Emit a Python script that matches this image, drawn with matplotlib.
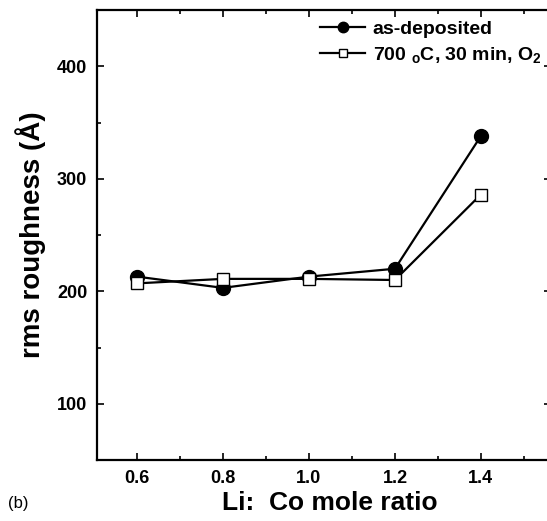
import matplotlib
matplotlib.use('Agg')
import matplotlib.pyplot as plt
from matplotlib.ticker import MultipleLocator

plt.rcParams['font.family'] = ['Liberation Sans', 'DejaVu Sans']
plt.rcParams['mathtext.fontset'] = 'custom'
plt.rcParams['mathtext.bf'] = 'Liberation Sans:bold'
plt.rcParams['mathtext.rm'] = 'Liberation Sans:bold'
plt.rcParams['mathtext.default'] = 'bf'

# data
ratio = [0.6, 0.8, 1.0, 1.2, 1.4]
as_deposited = [213, 203, 213, 220, 338]
annealed = [207, 211, 211, 210, 286]
label_as = 'as-deposited'
label_ann = r'700 $_{\rm o}$C, 30 min, O$_2$'

fig = plt.figure(figsize=(5.47, 5.21), dpi=100)
ax = fig.add_axes([97 / 547, 1 - 460 / 521, 454 / 547, 450 / 521])

ax.plot(ratio, as_deposited, '-o', color='black', lw=1.6, ms=10,
        mfc='black', mec='black', label=label_as, zorder=3)
ax.plot(ratio, annealed, '-s', color='black', lw=1.6, ms=8.5,
        mfc='white', mec='black', mew=1.0, label=label_ann, zorder=3)

ax.set_xlim(0.507, 1.563)
ax.set_ylim(50, 450)
ax.xaxis.set_minor_locator(MultipleLocator(0.1))
ax.yaxis.set_minor_locator(MultipleLocator(50))
ax.set_xticks([0.6, 0.8, 1.0, 1.2, 1.4])
ax.set_xticklabels(['0.6', '0.8', '1.0', '1.2', '1.4'])
ax.set_yticks([100, 200, 300, 400])

ax.tick_params(which='both', direction='in', top=True, right=True, width=1.2)
ax.tick_params(which='major', length=5, labelsize=13, pad=7)
ax.tick_params(which='minor', length=3)
for lab in ax.get_xticklabels() + ax.get_yticklabels():
    lab.set_fontweight('bold')
for sp in ax.spines.values():
    sp.set_linewidth(1.6)

ax.set_xlabel('Li:  Co mole ratio', fontsize=19, fontweight='bold', labelpad=2)
ax.xaxis.set_label_coords(0.512, -0.07, transform=ax.transAxes)
ax.xaxis.label.set_va('top')
ax.set_ylabel('rms roughness (Å)', fontsize=20, fontweight='bold', labelpad=8)

leg = ax.legend(loc='upper right', bbox_to_anchor=(559 / 547, 1 - 3 / 521),
                bbox_transform=fig.transFigure, frameon=False,
                prop={'weight': 'bold', 'size': 14}, handlelength=2.3,
                handletextpad=0.4, labelspacing=0.35, markerscale=0.75)

fig.text(8 / 547, 1 - 508 / 521, '(b)', fontsize=12)

fig.savefig('out.png', dpi=100)
